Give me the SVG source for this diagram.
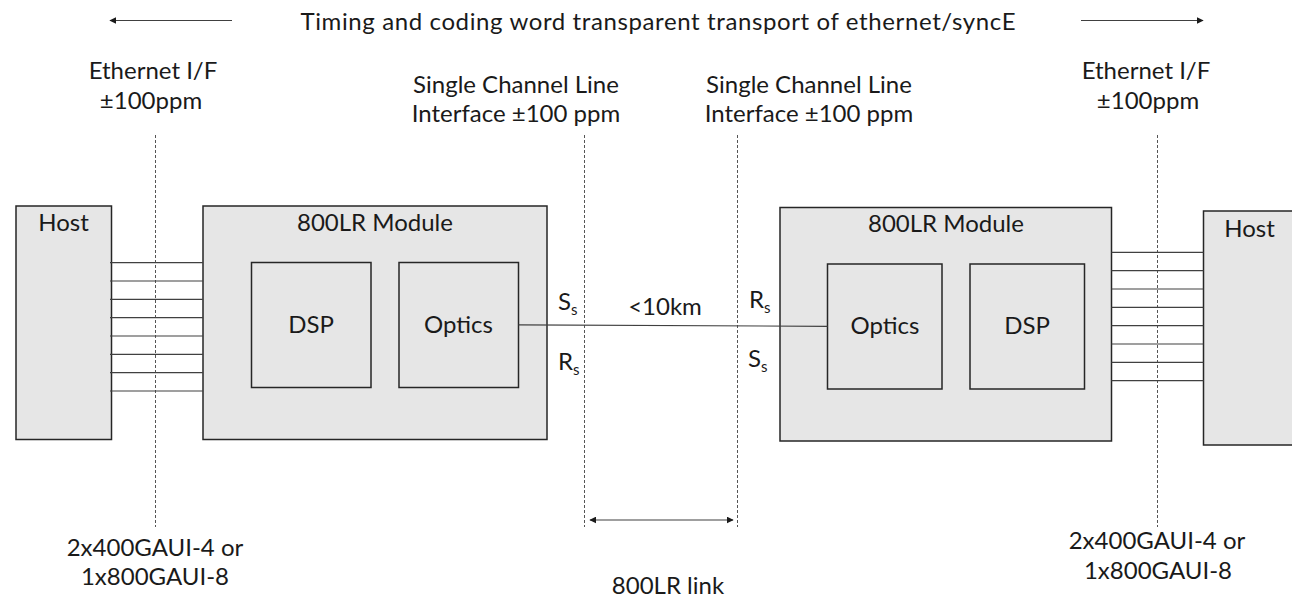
<svg xmlns="http://www.w3.org/2000/svg" width="1292" height="600" viewBox="0 0 1292 600">
  <style>
    text { font-family: "Lato", "Carlito", "Open Sans", sans-serif; font-size: 24px; fill: #1a1a1a; }
    .mid { text-anchor: middle; }
    .sub { font-size: 15px; }
    .box { fill: #e6e6e6; stroke: #262626; stroke-width: 1.5; }
    .lane { stroke: #404040; stroke-width: 1.2; fill: none; }
    .ref { stroke: #555555; stroke-width: 1; stroke-dasharray: 3 2; fill: none; }
    .arrow { stroke: #404040; stroke-width: 1.2; fill: none; }
  </style>
  <defs>
    <marker id="head" viewBox="0 0 10 10" refX="9" refY="5" markerWidth="7" markerHeight="7" orient="auto-start-reverse" markerUnits="userSpaceOnUse">
      <path d="M0,0 L10,5 L0,10 z" fill="#1a1a1a"/>
    </marker>
  </defs>

  <rect width="1292" height="600" fill="#ffffff"/>

  <!-- banner -->
  <g id="banner">
    <line class="arrow" x1="232" y1="20.5" x2="110" y2="20.5" marker-end="url(#head)"/>
    <line class="arrow" x1="1081" y1="20.5" x2="1203" y2="20.5" marker-end="url(#head)"/>
    <text class="mid" x="658" y="30" textLength="715">Timing and coding word transparent transport of ethernet/syncE</text>
  </g>

  <!-- reference planes -->
  <g id="planes">
    <line class="ref" x1="155.5" y1="135" x2="155.5" y2="527"/>
    <line class="ref" x1="584.5" y1="135" x2="584.5" y2="527"/>
    <line class="ref" x1="737.5" y1="135" x2="737.5" y2="527"/>
    <line class="ref" x1="1157.5" y1="135" x2="1157.5" y2="527"/>
  </g>

  <!-- interface labels -->
  <g id="labels">
    <text class="mid" x="153" y="79">Ethernet I/F</text>
    <text class="mid" x="151" y="109">±100ppm</text>
    <text class="mid" x="516" y="93">Single Channel Line</text>
    <text class="mid" x="516" y="122">Interface ±100 ppm</text>
    <text class="mid" x="809" y="93">Single Channel Line</text>
    <text class="mid" x="809" y="122">Interface ±100 ppm</text>
    <text class="mid" x="1146" y="79">Ethernet I/F</text>
    <text class="mid" x="1148" y="109">±100ppm</text>
    <text class="mid" x="155" y="556">2x400GAUI-4 or</text>
    <text class="mid" x="155" y="585">1x800GAUI-8</text>
    <text class="mid" x="1157" y="549">2x400GAUI-4 or</text>
    <text class="mid" x="1158" y="579">1x800GAUI-8</text>
    <text class="mid" x="668" y="594">800LR link</text>
  </g>

  <!-- left host -->
  <g id="host-left">
    <rect class="box" x="16" y="206" width="95.5" height="233.5"/>
    <text class="mid" x="63.5" y="231">Host</text>
  </g>

  <!-- left module -->
  <g id="module-left">
    <rect class="box" x="203" y="206" width="344" height="233.5"/>
    <text class="mid" x="375" y="231">800LR Module</text>
    <g id="dsp-left">
      <rect class="box" x="251.5" y="262.5" width="119.5" height="125"/>
      <text class="mid" x="311" y="333">DSP</text>
    </g>
    <g id="optics-left">
      <rect class="box" x="399" y="262.5" width="119.5" height="125"/>
      <text class="mid" x="458.5" y="333">Optics</text>
    </g>
  </g>

  <!-- right module -->
  <g id="module-right">
    <rect class="box" x="780" y="207.5" width="331.5" height="233.5"/>
    <text class="mid" x="946" y="232">800LR Module</text>
    <g id="optics-right">
      <rect class="box" x="827.5" y="264" width="114.5" height="125"/>
      <text class="mid" x="885" y="334">Optics</text>
    </g>
    <g id="dsp-right">
      <rect class="box" x="970" y="264" width="114.5" height="125"/>
      <text class="mid" x="1027" y="334">DSP</text>
    </g>
  </g>

  <!-- right host -->
  <g id="host-right">
    <rect class="box" x="1203.5" y="211" width="100" height="234"/>
    <text class="mid" x="1249.5" y="237">Host</text>
  </g>

  <!-- connectors -->
  <g id="connectors">
    <!-- electrical lanes, host to module -->
    <path class="lane" d="M110,262.7H203 M110,281H203 M110,299.3H203 M110,317.6H203 M110,336H203 M110,354.3H203 M110,372.6H203 M110,391H203"/>
    <path class="lane" d="M1111.5,252.3H1203.5 M1111.5,270.7H1203.5 M1111.5,289H1203.5 M1111.5,307.3H1203.5 M1111.5,325.6H1203.5 M1111.5,344H1203.5 M1111.5,362.3H1203.5 M1111.5,380.6H1203.5"/>
    <!-- fibre link -->
    <line class="lane" x1="518.5" y1="324.8" x2="827.5" y2="326.3"/>
    <!-- link span -->
    <line class="arrow" x1="590" y1="520" x2="733" y2="520" marker-start="url(#head)" marker-end="url(#head)"/>
  </g>

  <!-- link reference points -->
  <g id="points">
    <text x="558" y="310">S<tspan class="sub" dy="5">s</tspan></text>
    <text x="558" y="370">R<tspan class="sub" dy="5">s</tspan></text>
    <text x="749" y="308">R<tspan class="sub" dy="5">s</tspan></text>
    <text x="748" y="367">S<tspan class="sub" dy="5">s</tspan></text>
    <text class="mid" x="665" y="315">&lt;10km</text>
  </g>
</svg>
